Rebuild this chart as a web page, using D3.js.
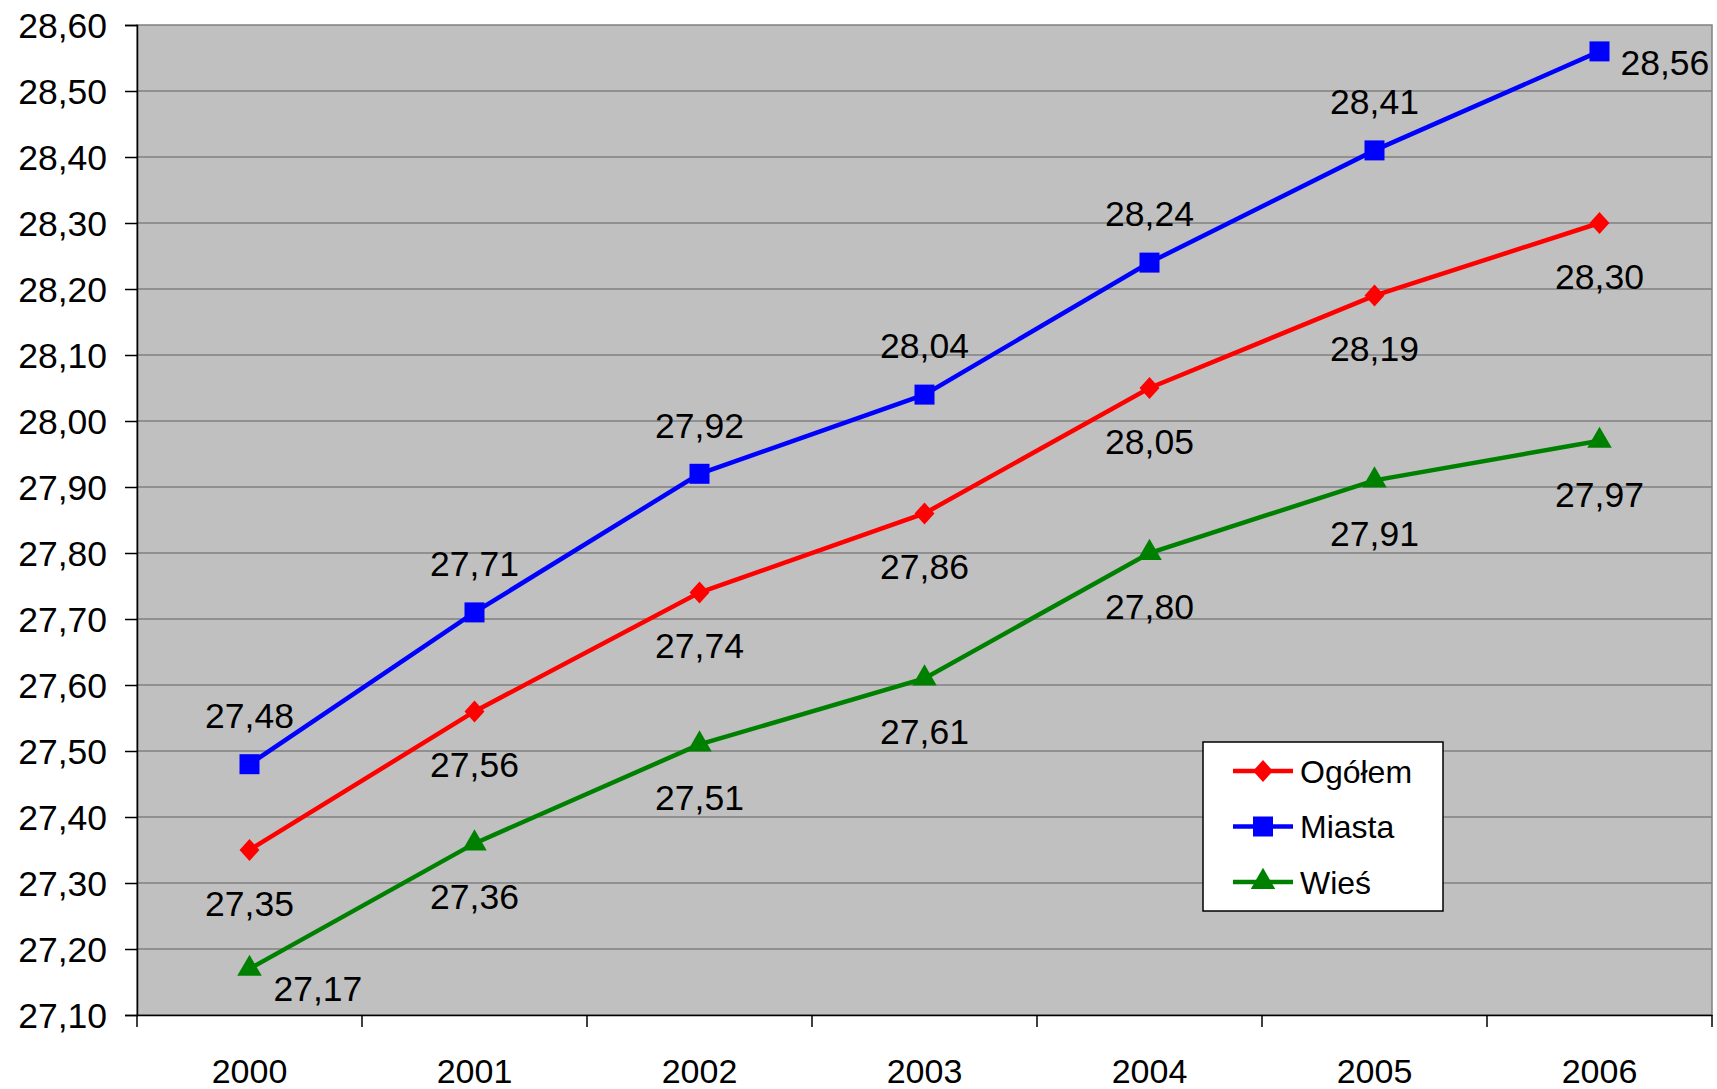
<!DOCTYPE html>
<html><head><meta charset="utf-8">
<script src="https://cdn.jsdelivr.net/npm/d3@7"></script>
<style>body{margin:0;background:#fff}svg{display:block;font-family:"Liberation Sans",Arial,sans-serif}</style>
</head><body>
<script>
const years = ["2000","2001","2002","2003","2004","2005","2006"];
const ogolem = [27.35, 27.56, 27.74, 27.86, 28.05, 28.19, 28.30];
const miasta = [27.48, 27.71, 27.92, 28.04, 28.24, 28.41, 28.56];
const wies   = [27.17, 27.36, 27.51, 27.61, 27.80, 27.91, 27.97];
const yTicks = [27.1,27.2,27.3,27.4,27.5,27.6,27.7,27.8,27.9,28.0,28.1,28.2,28.3,28.4,28.5,28.6];
const seriesNames = ["Ogółem","Miasta","Wieś"];

const W=1717,H=1089;
const L=137,R=1712,T=25,B=1015;
const svg=d3.select("body").append("svg").attr("width",W).attr("height",H);
const x=d3.scaleBand().domain(years).range([L,R]).padding(0);
const y=d3.scaleLinear().domain([27.1,28.6]).range([B,T]);
const fmt=v=>v.toFixed(2).replace(".",",");
const cx=d=>x(d)+x.bandwidth()/2;

svg.append("rect").attr("x",L).attr("y",T).attr("width",R-L).attr("height",B-T).attr("fill","#c0c0c0").attr("stroke","#808080").attr("stroke-width",1.5);
svg.append("g").selectAll("line").data(yTicks.slice(1,-1)).join("line")
  .attr("x1",L).attr("x2",R).attr("y1",d=>y(d)).attr("y2",d=>y(d)).attr("stroke","#808080").attr("stroke-width",1.3);

// axes
const ya=svg.append("g").attr("transform",`translate(${L},0)`)
  .call(d3.axisLeft(y).tickValues(yTicks).tickFormat(fmt).tickSize(12).tickPadding(18));
ya.select(".domain").attr("stroke","#000").attr("stroke-width",1.5);
ya.selectAll(".tick line").attr("stroke","#000").attr("stroke-width",1.5);
ya.selectAll("text").attr("font-size",35.5).attr("fill","#000").attr("font-family","Liberation Sans, Arial").attr("dy","0.36em");

const xa=svg.append("g").attr("transform",`translate(0,${B})`)
  .call(d3.axisBottom(x).tickSize(0).tickPadding(44));
xa.select(".domain").attr("stroke","#000").attr("stroke-width",1.5);
xa.selectAll("text").attr("font-size",34).attr("fill","#000").attr("font-family","Liberation Sans, Arial");
// category boundary ticks
svg.append("g").selectAll("line").data(d3.range(years.length+1)).join("line")
  .attr("x1",i=>L+i*x.bandwidth()).attr("x2",i=>L+i*x.bandwidth()).attr("y1",B).attr("y2",B+12)
  .attr("stroke","#000").attr("stroke-width",1.5);

const diamond={draw(ctx,size){const r=Math.sqrt(size/2);ctx.moveTo(0,-r*1.05);ctx.lineTo(r*0.95,0);ctx.lineTo(0,r*1.05);ctx.lineTo(-r*0.95,0);ctx.closePath();}};
const series=[
 {name:seriesNames[0],vals:ogolem,color:"#ff0000",shape:diamond,size:220},
 {name:seriesNames[1],vals:miasta,color:"#0000ff",shape:d3.symbolSquare,size:400},
 {name:seriesNames[2],vals:wies,color:"#008000",shape:d3.symbolTriangle,size:260}
];
const line=d3.line().x((d,i)=>cx(years[i])).y(d=>y(d));
series.forEach(s=>{
  svg.append("path").attr("d",line(s.vals)).attr("fill","none").attr("stroke",s.color).attr("stroke-width",4.5);
  const sym=d3.symbol().type(s.shape).size(s.size);
  svg.append("g").selectAll("path").data(s.vals).join("path")
    .attr("d",sym).attr("transform",(d,i)=>`translate(${cx(years[i])},${y(d)})`)
    .attr("fill",s.color);
});

// labels
function place(si,i){
  if(si===1) return i===years.length-1?{dx:21,dy:11,anchor:"start"}:{dx:0,dy:-49,anchor:"middle"};
  if(si===2 && i===0) return {dx:24,dy:19,anchor:"start"};
  return {dx:0,dy:53,anchor:"middle"};
}
series.forEach((s,si)=>{
  svg.append("g").selectAll("text").data(s.vals).join("text")
    .attr("x",(d,i)=>cx(years[i])+place(si,i).dx)
    .attr("y",(d,i)=>y(d)+place(si,i).dy)
    .attr("text-anchor",(d,i)=>place(si,i).anchor)
    .attr("dy","0.36em").attr("font-size",35.5).attr("fill","#000")
    .text(fmt);
});

// legend
const lg=svg.append("g");
lg.append("rect").attr("x",1203).attr("y",742).attr("width",240).attr("height",169).attr("fill","#fff").attr("stroke","#000").attr("stroke-width",1.5);
series.forEach((s,i)=>{
  const ly=771+i*55.5;
  lg.append("line").attr("x1",1233).attr("x2",1293).attr("y1",ly).attr("y2",ly).attr("stroke",s.color).attr("stroke-width",4.5);
  lg.append("path").attr("d",d3.symbol().type(s.shape).size(s.size)).attr("transform",`translate(1263,${ly})`).attr("fill",s.color);
  lg.append("text").attr("x",1300).attr("y",ly).attr("dy","0.36em").attr("font-size",32).attr("fill","#000").text(s.name);
});
</script>
</body></html>
